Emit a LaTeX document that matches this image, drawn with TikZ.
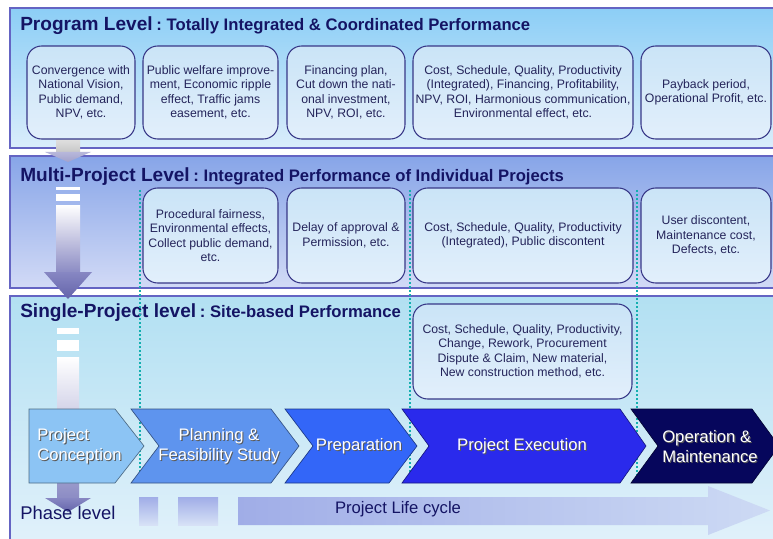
\documentclass[tikz,border=0pt]{standalone}
\usepackage{fontspec}
\setmainfont{Liberation Sans}
\usetikzlibrary{positioning,calc}

\definecolor{navy}{RGB}{20,20,100}
\definecolor{boxtext}{RGB}{36,36,90}
\definecolor{panelline}{RGB}{100,100,195}
\definecolor{boxline}{RGB}{55,55,135}
\definecolor{boxtop}{RGB}{202,228,247}
\definecolor{boxbot}{RGB}{226,239,251}
\definecolor{dotteal}{RGB}{20,175,175}
\definecolor{progtop}{RGB}{140,206,246}
\definecolor{progbot}{RGB}{218,237,251}
\definecolor{multitop}{RGB}{135,165,232}
\definecolor{multibot}{RGB}{210,218,246}
\definecolor{singletop}{RGB}{178,224,242}
\definecolor{singlebot}{RGB}{228,242,251}
\definecolor{ph1}{RGB}{140,196,244}
\definecolor{ph2}{RGB}{94,148,238}
\definecolor{ph3}{RGB}{51,102,248}
\definecolor{ph4}{RGB}{42,42,236}
\definecolor{ph5}{RGB}{6,6,92}
\definecolor{shaftend}{RGB}{140,140,196}
\definecolor{headtop}{RGB}{135,135,195}
\definecolor{headbot}{RGB}{100,100,170}
\definecolor{cycleleft}{RGB}{160,173,231}
\definecolor{cycleright}{RGB}{205,218,244}

\newcommand\leveltitle[2]{{\fontsize{14.3}{16}\selectfont #1}\ {\fontsize{12.5}{14}\selectfont :\ #2}}
\newcommand\shd[1]{\leavevmode\rlap{\kern0.8pt\raisebox{-0.8pt}{\textcolor{black!65}{#1}}}#1}

\tikzset{
	panel/.style={draw=panelline, line width=1pt},
	level/.style={anchor=base west, text=navy, font=\bfseries},
	perf/.style={draw=boxline, line width=0.8pt, rounded corners=11pt, top color=boxtop, bottom color=boxbot,
		text=boxtext, align=center, font=\fontsize{9.2}{10.9}\selectfont},
	phase/.style={draw=#1!55!black, line width=0.5pt, fill=#1},
	phasetext/.style={text=white, font=\fontsize{12.5}{15}\selectfont},
	separator/.style={draw=dotteal, line width=1.8pt, dash pattern=on 1.6pt off 1.4pt},
}

\begin{document}
\begin{tikzpicture}[x=0.75pt, y=-0.75pt, every node/.style={inner sep=0pt}]
	\useasboundingbox (0,0) rectangle (773,538);
	\clip (0,0) rectangle (773,538);
	\fill[white] (0,0) rectangle (773,538);

	% three levels
	\path[panel, top color=progtop, bottom color=progbot] (10,8) rectangle (800,148);
	\path[panel, top color=multitop, bottom color=multibot] (10,156) rectangle (800,288);
	\path[panel, top color=singletop, bottom color=singlebot] (10,296) rectangle (800,560);

	\node[level] (program) at (20,31) {\leveltitle{Program Level}{Totally Integrated \& Coordinated Performance}};
	\node[level] (multi) at (20,181) {\leveltitle{Multi-Project Level}{Integrated Performance of Individual Projects}};
	\node[level] (single) at (20,317) {\leveltitle{Single-Project level}{Site-based Performance}};

	% level arrows on the left
	\shade[top color=black!12, bottom color=black!22] (56,139) rectangle (80,152);
	\shade[top color=headtop!60, bottom color=headbot!60] (45,152) -- (91,152) -- (68,162) -- cycle;
	\foreach \a/\b in {187/190, 194/201} \fill[white] (56,\a) rectangle (80,\b);
	\shade[top color=white, bottom color=shaftend] (56,205) rectangle (80,272);
	\shade[top color=headtop, bottom color=headbot] (44,272) -- (92,272) -- (68,299) -- cycle;
	\foreach \a/\b in {328/334, 340/351} \fill[white] (57,\a) rectangle (79,\b);
	\shade[top color=white, bottom color=shaftend] (57,357) rectangle (79,498);
	\shade[top color=headtop, bottom color=headbot] (45,498) -- (91,498) -- (68,512) -- cycle;

	\foreach \x in {140,410,637} \draw[separator] (\x,190) -- (\x,475);

	% program level
	\node[perf, minimum width=81pt, minimum height=69.75pt] (conv) at (81,92.5) {Convergence with\\National Vision,\\Public demand,\\NPV, etc.};
	\node[perf, minimum width=101.25pt, minimum height=69.75pt] (welfare) at (210.5,92.5) {Public welfare improve-\\ment, Economic ripple\\effect, Traffic jams\\easement, etc.};
	\node[perf, minimum width=88.5pt, minimum height=69.75pt] (finance) at (346,92.5) {Financing plan,\\Cut down the nati-\\onal investment,\\NPV, ROI, etc.};
	\node[perf, minimum width=165pt, minimum height=69.75pt] (progcost) at (523,92.5) {Cost, Schedule, Quality, Productivity\\(Integrated), Financing, Profitability,\\NPV, ROI, Harmonious communication,\\Environmental effect, etc.};
	\node[perf, minimum width=97.5pt, minimum height=69.75pt] (payback) at (706,92.5) {Payback period,\\Operational Profit, etc.};

	% multi-project level
	\node[perf, minimum width=101.25pt, minimum height=71.25pt] (fair) at (210.5,235.5) {Procedural fairness,\\Environmental effects,\\Collect public demand,\\etc.};
	\node[perf, minimum width=88.5pt, minimum height=71.25pt] (delay) at (346,235.5) {Delay of approval \&\\Permission, etc.};
	\node[perf, minimum width=165pt, minimum height=71.25pt] (multicost) at (523,235.5) {Cost, Schedule, Quality, Productivity\\(Integrated), Public discontent};
	\node[perf, minimum width=97.5pt, minimum height=71.25pt] (user) at (706,235.5) {User discontent,\\Maintenance cost,\\Defects, etc.};

	% single-project level
	\node[perf, minimum width=164.25pt, minimum height=71.25pt] (sitecost) at (522.5,351.5) {Cost, Schedule, Quality, Productivity,\\Change, Rework, Procurement\\Dispute \& Claim, New material,\\New construction method, etc.};

	% phases
	\path[phase=ph1] (29,409) -- (115,409) -- (144,446) -- (115,483) -- (29,483) -- cycle;
	\path[phase=ph2] (131,409) -- (271,409) -- (299,446) -- (271,483) -- (131,483) -- (159,446) -- cycle;
	\path[phase=ph3] (285,409) -- (389,409) -- (417,446) -- (389,483) -- (285,483) -- (313,446) -- cycle;
	\path[phase=ph4] (402,409) -- (620,409) -- (646,446) -- (620,483) -- (402,483) -- (429,446) -- cycle;
	\path[phase=ph5] (631,409) -- (752,409) -- (779,446) -- (752,483) -- (631,483) -- (658,446) -- cycle;

	\node[phasetext, anchor=west, align=left] (conception) at (37,447) {\shd{Project}\\\shd{Conception}};
	\node[phasetext, align=center] (planning) at (219,447) {\shd{Planning \&}\\\shd{Feasibility Study}};
	\node[phasetext] (preparation) at (359,447) {\shd{Preparation}};
	\node[phasetext] (execution) at (522,447) {\shd{Project Execution}};
	\node[phasetext, anchor=west, align=left] (operation) at (662,447) {\shd{Operation \&}\\\shd{Maintenance}};

	% life cycle
	\shade[top color=cycleleft, bottom color=cycleright!80!white] (139,497) rectangle (158,525);
	\shade[top color=cycleleft, bottom color=cycleright!80!white] (178,497) rectangle (218,525);
	\shade[left color=cycleleft, right color=cycleright] (238,497) -- (708,497) -- (708,486) -- (770,510.5) -- (708,535) -- (708,525) -- (238,525) -- cycle;

	\node[anchor=base west, text=navy, font=\fontsize{13.8}{16}\selectfont] (phaselevel) at (20,519) {Phase level};
	\node[text=navy, font=\fontsize{12.5}{15}\selectfont] (lifecycle) at (398,509) {Project Life cycle};
\end{tikzpicture}
\end{document}
